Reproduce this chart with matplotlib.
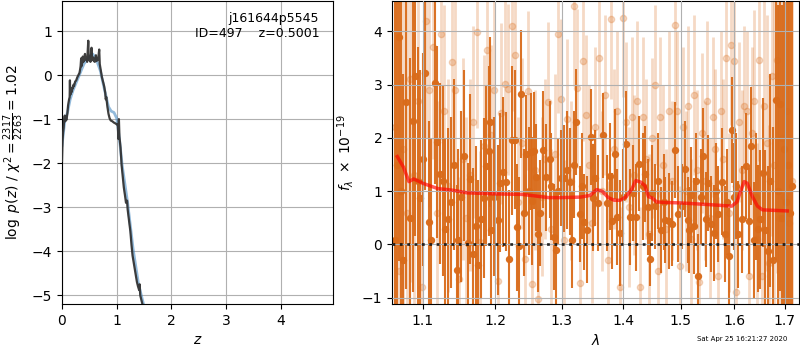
import matplotlib
matplotlib.use("Agg")
import matplotlib.pyplot as plt
from matplotlib.ticker import NullLocator

# --- p(z) panel -------------------------------------------------------------
z_chi = [0.0, 0.01, 0.02, 0.03, 0.04, 0.05, 0.06, 0.07, 0.08, 0.09, 0.10, 0.11,
         0.12, 0.13, 0.14, 0.145, 0.15, 0.16, 0.17, 0.18, 0.19, 0.20, 0.21, 0.22,
         0.24, 0.26, 0.28, 0.30, 0.32, 0.33, 0.34, 0.35, 0.355, 0.37, 0.38, 0.39,
         0.40, 0.42, 0.43, 0.45, 0.46, 0.48, 0.49, 0.51, 0.52, 0.54, 0.55, 0.57,
         0.58, 0.60, 0.62, 0.63, 0.66, 0.68, 0.69, 0.71, 0.73, 0.75, 0.77, 0.79,
         0.80, 0.81, 0.83, 0.85, 0.87, 0.89, 0.92, 0.95, 0.98, 1.00, 1.02, 1.03,
         1.04, 1.05, 1.07, 1.09, 1.11, 1.13, 1.15, 1.17, 1.19, 1.20, 1.22, 1.25,
         1.27, 1.29, 1.31, 1.33, 1.35, 1.37, 1.39, 1.41, 1.42, 1.43, 1.45, 1.47,
         1.49, 1.51]
logpz_chi = [-1.95, -1.5, -1.3, -1.2, -1.0, -0.92, -1.05, -0.97, -1.02, -0.95, -0.85, -0.7,
             -0.62, -0.55, -0.5, -0.12, -0.45, -0.42, -0.35, -0.38, -0.28, -0.30, -0.22, -0.25,
             -0.15, -0.12, -0.05, 0.0, 0.05, 0.12, 0.20, 0.38, 0.2, 0.28, 0.42, 0.3,
             0.32, 0.48, 0.35, 0.38, 0.30, 0.78, 0.35, 0.40, 0.30, 0.62, 0.35, 0.40,
             0.32, 0.30, 0.45, 0.32, 0.35, 0.58, 0.25, 0.10, -0.05, -0.15, -0.25, -0.40,
             -0.55, -0.50, -0.72, -0.88, -0.98, -1.03, -1.05, -1.08, -1.10, -1.12, -1.12, -1.45,
             -1.00, -1.4, -1.65, -2.05, -2.3, -2.55, -2.72, -2.90, -2.85, -3.05, -3.25, -3.55,
             -3.85, -4.10, -4.25, -4.40, -4.55, -4.70, -4.80, -4.88, -4.75, -5.0, -5.1, -5.2,
             -5.35, -5.5]

z_smooth = [0.0, 0.05, 0.1, 0.15, 0.2, 0.3, 0.4, 0.5, 0.56, 0.62, 0.7, 0.78, 0.85,
            0.9, 0.95, 1.0, 1.05, 1.1, 1.2, 1.3, 1.4, 1.5, 1.52]
logpz_smooth = [-1.6, -1.05, -0.85, -0.55, -0.35, -0.05, 0.25, 0.42, 0.48, 0.38, 0.1, -0.35, -0.72,
                -0.82, -0.85, -0.98, -1.45, -2.05, -2.9, -3.95, -4.75, -5.25, -5.4]

z_ticks = [0, 1, 2, 3, 4]
logpz_ticks = [-5, -4, -3, -2, -1, 0, 1]

# --- spectrum panel ---------------------------------------------------------
lam_dark = [1.0646, 1.0668, 1.0688, 1.0715, 1.0745, 1.0787, 1.0830, 1.0869, 1.0904, 1.0935,
            1.0970, 1.1005, 1.1036, 1.1079, 1.1116, 1.1160, 1.1190, 1.1227, 1.1267, 1.1300,
            1.1336, 1.1382, 1.1420, 1.1464, 1.1482, 1.1520, 1.1565, 1.1611, 1.1639, 1.1681,
            1.1729, 1.1751, 1.1799, 1.1836, 1.1874, 1.1907, 1.1932, 1.1947, 1.1985, 1.2037,
            1.2077, 1.2116, 1.2162, 1.2198, 1.2245, 1.2296, 1.2317, 1.2346, 1.2384, 1.2420,
            1.2461, 1.2495, 1.2525, 1.2550, 1.2579, 1.2600, 1.2630, 1.2670, 1.2718, 1.2760,
            1.2818, 1.2838, 1.2880, 1.2915, 1.2950, 1.2989, 1.3036, 1.3083, 1.3134, 1.3160,
            1.3195, 1.3230, 1.3286, 1.3325, 1.3362, 1.3410, 1.3465, 1.3500, 1.3530, 1.3588,
            1.3660, 1.3726, 1.3775, 1.3814, 1.3855, 1.3902, 1.3950, 1.4000, 1.4043, 1.4115,
            1.4166, 1.4217, 1.4265, 1.4332, 1.4379, 1.4420, 1.4458, 1.4484, 1.4545, 1.4600,
            1.4645, 1.4697, 1.4726, 1.4798, 1.4852, 1.4899, 1.4950, 1.5019, 1.5084, 1.5125,
            1.5150, 1.5188, 1.5235, 1.5275, 1.5322, 1.5365, 1.5403, 1.5464, 1.5505, 1.5558,
            1.5612, 1.5655, 1.5695, 1.5756, 1.5821, 1.5860, 1.5904, 1.5950, 1.6000, 1.6040,
            1.6077, 1.6141, 1.6226, 1.6290, 1.6324, 1.6373, 1.6420, 1.6468, 1.6510, 1.6555,
            1.6602, 1.6667, 1.6710, 1.6766, 1.6822, 1.6865, 1.6903, 1.6950, 1.6990, 1.7030,
            1.7070, 1.7110, 1.7150]
flux_dark = [0.08, 1.5, 3.89, 1.0, -0.3, 2.67, 0.5, 2.31, 3.16, 1.2,
             0.88, 1.6, 3.22, 0.42, 0.09, 3.04, 1.92, 1.33, 1.20, 0.3,
             0.48, 0.79, 1.5, -0.48, 0.09, 0.9, 1.67, 0.03, 1.23, -0.17,
             0.34, -0.38, 0.47, 0.88, 1.48, 1.76, 2.30, 0.27, 0.9, 0.46,
             1.16, 1.36, 1.18, -0.28, 1.96, 1.97, 0.32, -0.03, 2.82, 0.6,
             1.70, 1.0, 1.74, 0.81, 1.76, 1.26, 0.2, 0.59, 1.78, 1.26,
             1.60, 1.09, 0.14, -0.11, 1.0, 1.24, 1.24, 1.40, 1.18, 0.09,
             1.5, 2.30, 0.58, 1.1, 0.42, 0.28, 2.02, 0.88, 1.25, 0.78,
             2.05, 0.78, 1.28, 0.44, 1.70, 0.52, 0.22, 0.9, 1.88, 0.52,
             0.96, 0.51, 1.52, 1.09, 1.33, 0.7, -0.28, 0.96, 0.72, 1.2,
             0.27, 0.80, 0.46, 0.44, 0.39, 1.78, 0.58, 0.72, 1.41, 0.46,
             0.27, 0.93, 0.34, 1.2, -0.60, 0.9, 1.66, 0.47, 1.16, 0.38,
             0.22, 1.0, 0.58, 1.18, 0.19, 0.8, -0.22, 2.15, 0.9, 1.1,
             0.19, 0.47, 1.47, 0.44, 1.85, 0.08, 0.9, 0.30, 0.47, 1.35,
             0.28, -0.12, 1.2, -0.3, 2.71, 1.0, 2.63, 0.5, 1.8, 0.8,
             1.5, 0.6, 1.1]
err_dark = [4.5, 4.0, 4.2, 3.8, 3.5, 3.5, 3.0, 3.2, 3.0, 2.5,
            2.4, 2.0, 2.2, 1.9, 1.9, 1.9, 1.8, 1.7, 1.8, 1.7,
            1.7, 1.6, 1.6, 1.6, 1.7, 1.6, 1.6, 1.5, 1.6, 1.6,
            1.5, 1.6, 1.5, 1.5, 1.5, 1.6, 1.6, 1.5, 1.5, 1.4,
            1.3, 1.4, 1.3, 1.3, 1.4, 1.3, 1.2, 1.3, 1.2, 1.2,
            1.1, 1.2, 1.1, 1.2, 1.1, 1.0, 1.1, 1.0, 1.1, 1.0,
            1.1, 1.0, 1.0, 1.1, 1.0, 0.9, 1.0, 1.1, 1.0, 0.9,
            1.0, 1.0, 0.9, 1.0, 0.9, 1.0, 0.9, 1.0, 0.9, 0.9,
            0.8, 0.9, 1.0, 0.9, 0.85, 0.9, 1.0, 0.9, 1.0, 0.9,
            0.9, 1.0, 0.9, 1.0, 0.9, 0.9, 0.5, 0.9, 0.8, 0.9,
            0.8, 0.9, 0.8, 0.9, 0.8, 0.9, 0.9, 0.8, 0.9, 0.8,
            0.8, 0.9, 0.9, 0.9, 0.8, 0.9, 0.9, 0.9, 0.9, 0.9,
            0.9, 0.9, 0.9, 1.0, 0.9, 1.0, 0.9, 1.0, 1.0, 1.0,
            1.0, 1.0, 1.0, 1.0, 1.1, 1.1, 1.2, 1.2, 1.3, 1.4,
            1.5, 1.6, 2.0, 2.5, 3.0, 3.5, 3.5, 4.0, 4.0, 4.5,
            4.5, 4.5, 4.5]

lam_light = [1.064, 1.069, 1.074, 1.079, 1.084, 1.089, 1.094, 1.099, 1.104, 1.109,
             1.114, 1.119, 1.124, 1.129, 1.134, 1.139, 1.144, 1.149, 1.154, 1.159,
             1.164, 1.169, 1.174, 1.179, 1.184, 1.189, 1.194, 1.199, 1.204, 1.209,
             1.214, 1.219, 1.224, 1.229, 1.234, 1.239, 1.244, 1.249, 1.254, 1.259,
             1.264, 1.269, 1.274, 1.279, 1.284, 1.289, 1.294, 1.299, 1.304, 1.309,
             1.314, 1.319, 1.324, 1.329, 1.334, 1.339, 1.344, 1.349, 1.354, 1.359,
             1.364, 1.369, 1.374, 1.379, 1.384, 1.389, 1.394, 1.399, 1.404, 1.409,
             1.414, 1.419, 1.424, 1.429, 1.434, 1.439, 1.444, 1.449, 1.454, 1.459,
             1.464, 1.469, 1.474, 1.479, 1.484, 1.489, 1.494, 1.499, 1.504, 1.509,
             1.514, 1.519, 1.524, 1.529, 1.534, 1.539, 1.544, 1.549, 1.554, 1.559,
             1.564, 1.569, 1.574, 1.579, 1.584, 1.589, 1.594, 1.599, 1.604, 1.609,
             1.614, 1.619, 1.624, 1.629, 1.634, 1.639, 1.644, 1.649, 1.654, 1.659,
             1.664, 1.669, 1.674, 1.679, 1.684, 1.689, 1.694, 1.699, 1.704, 1.709,
             1.714]
flux_light = [2.2, -0.5, 1.8, 0.6, 3.1, 1.3, 2.7, -0.8, 4.2, 2.9,
              3.7, 0.6, 3.96, 2.5, 1.1, 3.43, 2.9, -0.64, 1.6, 0.5,
              1.3, 2.3, 3.98, 0.05, 1.85, 3.66, 2.05, 2.9, -0.68, 2.46,
              3.02, 2.91, 4.1, 3.55, 0.8, 1.9, -0.27, 2.89, -0.75, 1.4,
              -1.03, 0.9, 1.6, 2.68, 0.3, 1.7, 3.96, 2.74, 0.09, 2.35,
              1.2, 4.47, 2.93, -0.73, 3.44, 2.43, 1.5, 0.4, 2.2, 3.5,
              1.0, 2.8, -0.3, 4.24, 1.8, 2.5, -0.8, 4.26, 2.3, 0.7,
              2.4, 1.3, 2.7, -0.8, 2.4, 1.6, 0.2, 2.0, 3.0, -0.5,
              2.4, 1.5, 0.3, 2.5, 1.2, 4.12, 2.5, -0.4, 2.2, 1.0,
              2.6, 0.1, 2.8, 1.4, -0.7, 2.1, 1.2, 2.7, 0.5, 2.4,
              1.8, -0.6, 2.5, 1.6, 3.5, 0.6, 3.75, 3.44, -0.9, 2.3,
              1.4, 2.6, 2.5, -0.6, 2.1, 2.7, 0.1, 3.47, -0.6, 2.6,
              1.9, -0.35, 3.16, 1.5, 3.47, 0.5, 2.0, 0.9, 2.5, 0.4,
              1.2]
err_light = [4.5, 4.5, 4.2, 4.0, 3.8, 3.2, 2.8, 2.4, 2.2, 2.2,
             2.1, 2.1, 2.0, 2.0, 2.0, 2.0, 1.9, 1.9, 1.9, 1.9,
             1.8, 1.8, 1.8, 1.7, 1.7, 1.7, 1.7, 1.7, 1.7, 1.7,
             1.6, 1.6, 1.6, 1.6, 1.6, 1.6, 1.6, 1.5, 1.5, 1.5,
             1.5, 1.5, 1.5, 1.5, 1.5, 1.5, 1.5, 1.5, 1.5, 1.5,
             1.5, 1.5, 1.5, 1.5, 1.5, 1.5, 1.5, 1.5, 1.5, 1.5,
             1.5, 1.5, 1.5, 1.5, 1.5, 1.5, 1.5, 1.5, 1.5, 1.5,
             1.5, 1.5, 1.5, 1.5, 1.5, 1.5, 1.5, 1.5, 1.5, 1.5,
             1.5, 1.5, 1.5, 1.5, 1.5, 1.5, 1.5, 1.5, 1.5, 1.5,
             1.5, 1.5, 1.5, 1.5, 1.5, 1.5, 1.5, 1.5, 1.5, 1.5,
             1.5, 1.5, 1.5, 1.5, 1.5, 1.5, 1.5, 1.5, 1.5, 1.5,
             1.5, 1.5, 1.5, 1.6, 1.6, 1.7, 1.8, 1.9, 2.0, 2.2,
             2.4, 2.6, 3.0, 3.5, 4.0, 4.0, 4.5, 4.5, 4.5, 4.5,
             4.5]

lam_model = [1.067, 1.075, 1.082, 1.088, 1.093, 1.100, 1.110, 1.120, 1.140, 1.160,
             1.200, 1.240, 1.260, 1.280, 1.300, 1.330, 1.345, 1.356, 1.365, 1.375,
             1.385, 1.395, 1.405, 1.415, 1.421, 1.430, 1.437, 1.443, 1.450, 1.457,
             1.470, 1.500, 1.550, 1.580, 1.595, 1.605, 1.612, 1.619, 1.625, 1.635,
             1.645, 1.655, 1.680, 1.705]
flux_model = [1.65, 1.45, 1.18, 1.23, 1.20, 1.15, 1.10, 1.05, 1.02, 0.97,
              0.95, 0.94, 0.91, 0.88, 0.88, 0.89, 0.92, 1.03, 1.00, 0.88,
              0.83, 0.83, 0.90, 1.05, 1.20, 1.17, 1.10, 0.90, 0.87, 0.80,
              0.79, 0.78, 0.75, 0.73, 0.72, 0.80, 1.00, 1.18, 1.15, 0.90,
              0.72, 0.65, 0.64, 0.63]

lam_ticks = [1.1, 1.2, 1.3, 1.4, 1.5, 1.6, 1.7]
flux_ticks = [-1, 0, 1, 2, 3, 4]

ORANGE = "#d96b1a"

fig = plt.figure(figsize=(8, 3.5), dpi=100)

# left: log p(z)
ax_pz = fig.add_axes([0.0775, 0.131, 0.3385, 0.866])
ax_pz.plot(z_smooth, logpz_smooth, color="#4a8cc4", linewidth=2, alpha=0.6, zorder=2)
ax_pz.plot(z_chi, logpz_chi, color="#333333", linewidth=1.6, alpha=0.95, zorder=3)
ax_pz.set_xlim(0, 4.95)
ax_pz.set_ylim(-5.2, 1.68)
ax_pz.set_xticks(z_ticks)
ax_pz.set_yticks(logpz_ticks)
ax_pz.grid(True)
ax_pz.set_xlabel(r"$z$")
ax_pz.set_ylabel(r"$\log\ p(z)$" + " / " + r"$\chi^2=\frac{2317}{2263}=1.02$")
ax_pz.text(0.95, 0.965, "j161644p5545\nID=497    z=0.5001",
           ha="right", va="top", transform=ax_pz.transAxes, fontsize=9)

# right: spectrum
ax_sp = fig.add_axes([0.49, 0.131, 0.509, 0.866])
ax_sp.errorbar(lam_light, flux_light, yerr=err_light, marker="o", linestyle="none",
               color=ORANGE, alpha=0.25, markersize=4.5, elinewidth=2.0, zorder=1)
ax_sp.errorbar(lam_dark, flux_dark, yerr=err_dark, marker="o", linestyle="none",
               color=ORANGE, alpha=0.95, markersize=4.3, elinewidth=1.5, zorder=1.2)
ax_sp.plot(lam_model, flux_model, color="red", linewidth=2.5, alpha=0.65, zorder=4)
ax_sp.axhline(0, color="k", linestyle=":", linewidth=2, alpha=0.8, zorder=5)

ax_sp.set_xscale("log")
ax_sp.set_xlim(1.0602, 1.7297)
ax_sp.set_ylim(-1.12, 4.57)
ax_sp.set_xticks(lam_ticks)
ax_sp.set_xticklabels([f"{t:.1f}" for t in lam_ticks])
ax_sp.xaxis.set_minor_locator(NullLocator())
ax_sp.set_yticks(flux_ticks)
ax_sp.set_axisbelow(False)
ax_sp.grid(True)
ax_sp.set_xlabel(r"$\lambda$")
ax_sp.set_ylabel(r"$f_\lambda\ \times\ 10^{-19}$")

fig.text(0.984, 0.022, "Sat Apr 25 16:21:27 2020", ha="right", va="bottom", fontsize=5)

fig.savefig("out.png", dpi=100)
plt.close(fig)
